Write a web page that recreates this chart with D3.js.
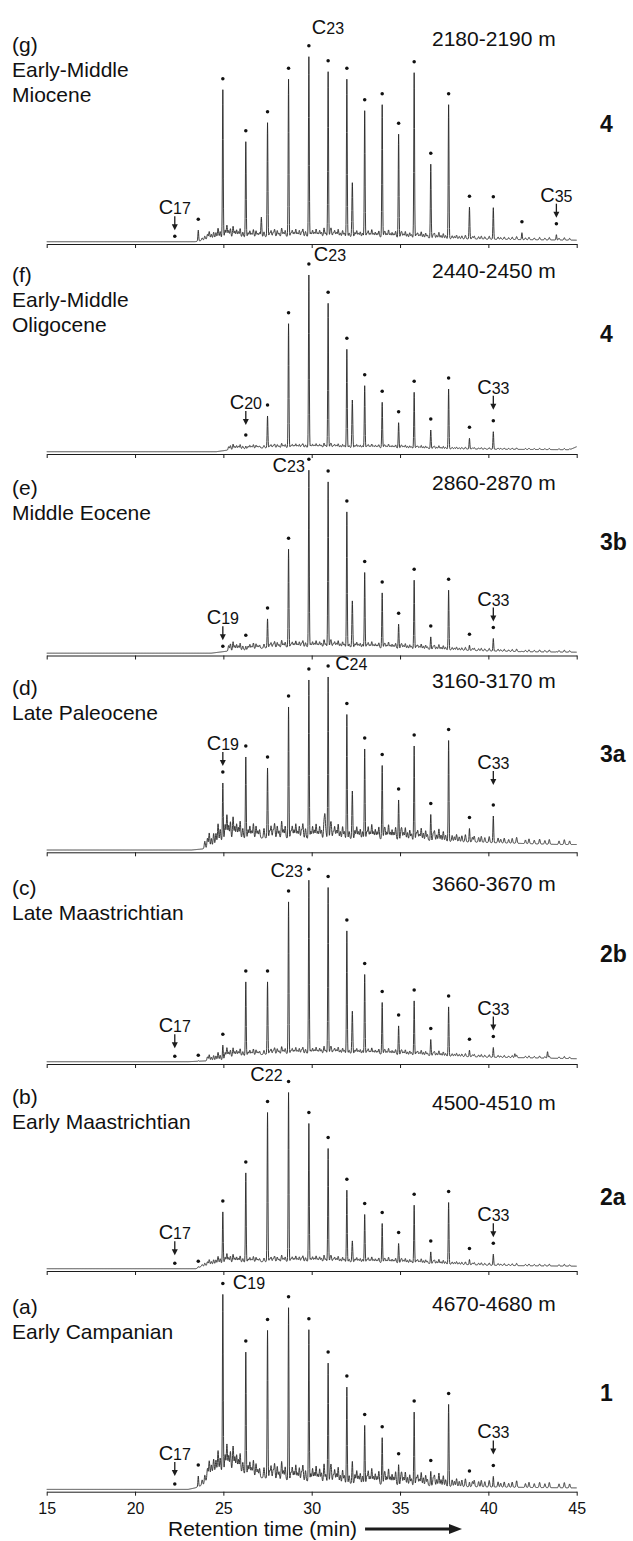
<!DOCTYPE html>
<html><head><meta charset="utf-8">
<script src="https://cdn.jsdelivr.net/npm/d3@7"></script>
<style>
body{margin:0;background:#fff}
text{font-family:"Liberation Sans",Arial,Helvetica,sans-serif;fill:#111}
</style>
</head><body>
<svg id="chart" width="633" height="1541"></svg>
<script>
// ---------------- DATA ----------------
const xTicks = [15, 20, 25, 30, 35, 40, 45];
const panelKeys = ["g", "f", "e", "d", "c", "b", "a"];
const panelAges = [["Early-Middle", "Miocene"], ["Early-Middle", "Oligocene"], ["Middle Eocene"], ["Late Paleocene"], ["Late Maastrichtian"], ["Early Maastrichtian"], ["Early Campanian"]];
const panelDepths = ["2180-2190 m", "2440-2450 m", "2860-2870 m", "3160-3170 m", "3660-3670 m", "4500-4510 m", "4670-4680 m"];
const panelGroups = ["4", "4", "3b", "3a", "2b", "2a", "1"];

// n-alkanes C17..C35 and retention times (min)
const alkaneCarbons = [17, 18, 19, 20, 21, 22, 23, 24, 25, 26, 27, 28, 29, 30, 31, 32, 33, 34, 35];
const alkaneTimes = [22.25, 23.58, 24.97, 26.27, 27.5, 28.69, 29.84, 30.93, 31.99, 33.0, 33.99, 34.92, 35.8, 36.74, 37.75, 38.93, 40.28, 41.9, 43.85];

// peak abundance (arbitrary units) C17..C35 per sample
const heightsG = [0, 11.5, 152, 100, 119, 162.5, 185, 170, 162.5, 131, 137, 107.5, 169, 77.5, 137, 34.5, 34, 9, 7];
const heightsF = [0, 0, 0.5, 5.7, 35.7, 128, 176.7, 148.4, 102.4, 66, 49.4, 29, 59.4, 21.7, 62.7, 13.4, 20, 2, 2];
const heightsE = [0, 0, 0.5, 7, 34.3, 104, 183, 171.3, 141.3, 80.7, 60.3, 29, 73, 16.3, 63, 8, 14.7, 2, 1.5];
const heightsD = [0, 0, 67, 93, 82, 143, 170, 173, 135.5, 101, 84.5, 50, 104, 35.5, 109.5, 21.5, 34, 3, 2];
const heightsC = [0, 1, 16.5, 79.8, 79.8, 159.8, 181.5, 174.2, 130.8, 87.2, 59.2, 35.8, 60.8, 22.2, 54.8, 11.5, 14.2, 3, 2];
const heightsB = [0, 2, 56.8, 95.8, 156.2, 176.2, 145.2, 120.2, 78.5, 54.2, 45.2, 25.2, 63.5, 16.8, 66.2, 9.2, 14.5, 2, 2];
const heightsA = [0, 13.3, 195, 137.3, 159, 181.7, 159.7, 126.3, 102.3, 64, 51.7, 24.7, 77.3, 18, 85, 7.3, 13, 2, 1.5];

// carbons marked with a dot (first, last)
const dottedG = [17, 35], dottedF = [20, 33], dottedE = [19, 33], dottedD = [19, 33], dottedC = [17, 33], dottedB = [17, 33], dottedA = [17, 33];

// other resolved peaks [time, abundance]
const extraG = [[27.15, 24.5], [32.3, 59]];
const extraF = [[32.3, 51.7]];
const extraE = [[32.3, 52.3]];
const extraD = [[32.3, 59], [30.75, 30]];
const extraC = [[32.3, 50.5], [41.5, 8], [43.35, 10]];
const extraB = [[32.3, 27.8]];
const extraA = [[32.3, 28]];

// unresolved hump (baseline) [time, abundance]
const humpG = [[15, 0], [23.4, 0], [23.7, 1], [24.2, 3], [25, 4.5], [27, 5], [30, 5.5], [33, 5], [36, 4], [38, 3], [40, 2.5], [45, 1.5]];
const humpF = [[15, 0], [24.6, 0], [25.2, 1.5], [26, 3], [27.5, 4], [30, 4.5], [34, 4], [37, 3], [40, 2.5], [44.6, 2], [45, 5]];
const humpE = [[15, 0], [24.3, 0], [25.2, 2], [26.3, 3.5], [27.5, 5.5], [29.5, 6.5], [31.5, 6.5], [33.5, 5.5], [35.5, 4.5], [37.5, 3.5], [39.5, 2.5], [42, 1.5], [45, 1]];
const humpD = [[15, 0], [23.2, 0], [23.8, 1], [24.3, 3], [24.7, 7], [25.0, 11], [26, 12], [28, 12], [31, 11.5], [34, 11], [36, 10], [38, 8.5], [40, 7.5], [42, 6.5], [44, 5.5], [45, 5.5]];
const humpC = [[15, 0], [23.0, 0], [24.0, 0.8], [24.85, 1.5], [25.2, 4], [26, 6], [28, 8], [30, 8.5], [32, 8.5], [34, 7.5], [36, 6.5], [38, 5.5], [40, 4.5], [42, 4], [45, 3]];
const humpB = [[15, 0], [23.45, 0], [23.7, 2], [24.3, 4], [25, 6], [27, 7], [30, 7.5], [33, 6.5], [36, 5.5], [38, 4.5], [40, 3.5], [42, 3], [45, 2.5]];
const humpA = [[15, 0], [23.0, 0], [23.4, 1.5], [23.9, 5], [24.15, 12], [24.4, 17], [25, 19], [25.6, 20], [26.2, 16], [27, 12], [28, 10], [29, 9], [30, 8], [32, 6], [34, 5], [36, 4], [38, 3], [40, 2.5], [42, 2], [45, 1.5]];

// minor (unlabelled) components: retention time and relative intensity
const minorTimes = [23.8, 23.95, 24.1, 24.2, 24.32, 24.45, 24.58, 24.7, 24.82,
  25.1, 25.2, 25.3, 25.4, 25.55, 25.65, 25.75, 25.85, 25.95, 26.1,
  26.4, 26.5, 26.6, 26.7, 26.85, 26.95, 27.05, 27.3,
  27.62, 27.7, 27.82, 27.9, 28.05, 28.15, 28.3, 28.4, 28.5,
  28.82, 28.9, 29.0, 29.1, 29.2, 29.3, 29.42, 29.5, 29.65,
  29.95, 30.05, 30.15, 30.25, 30.35, 30.45, 30.55, 30.7, 30.8,
  31.05, 31.1, 31.22, 31.3, 31.4, 31.5, 31.62, 31.75, 31.85,
  32.12, 32.45, 32.55, 32.65, 32.75, 32.88,
  33.12, 33.2, 33.3, 33.4, 33.5, 33.6, 33.7, 33.8,
  34.1, 34.15, 34.25, 34.35, 34.45, 34.55, 34.65, 34.75,
  35.05, 35.1, 35.2, 35.3, 35.42, 35.55, 35.65,
  35.92, 36.0, 36.1, 36.2, 36.32, 36.45, 36.55,
  36.88, 36.95, 37.08, 37.2, 37.32, 37.45, 37.58,
  37.95, 38.08, 38.2, 38.35, 38.5, 38.7,
  39.1, 39.2, 39.45, 39.6, 39.8, 40.05,
  40.55, 40.7, 40.9, 41.15, 41.35, 41.6,
  42.1, 42.3, 42.6, 42.9, 43.2, 43.45,
  44.0, 44.3, 44.6];
const minorRel = [0.2, 0.3, 0.4, 0.6, 0.35, 0.5, 0.45, 0.8, 0.5,
  0.6, 1.0, 0.55, 0.7, 0.9, 0.5, 0.6, 0.45, 0.7, 0.4,
  0.35, 0.5, 0.3, 0.6, 0.5, 0.3, 0.35, 0.4,
  0.3, 0.5, 0.35, 0.6, 0.5, 0.3, 0.7, 0.35, 0.5,
  0.3, 0.5, 0.35, 0.6, 0.3, 0.5, 0.35, 0.6, 0.4,
  0.3, 0.5, 0.35, 0.6, 0.3, 0.5, 0.35, 0.7, 0.3,
  0.35, 0.6, 0.3, 0.5, 0.35, 0.6, 0.3, 0.5, 0.3,
  0.3, 0.35, 0.5, 0.3, 0.4, 0.3,
  0.3, 0.5, 0.3, 0.6, 0.3, 0.4, 0.3, 0.5,
  0.3, 0.4, 0.3, 0.6, 0.3, 0.4, 0.3, 0.5,
  0.3, 0.4, 0.3, 0.5, 0.3, 0.4, 0.25,
  0.3, 0.4, 0.25, 0.5, 0.3, 0.4, 0.25,
  0.3, 0.4, 0.25, 0.5, 0.25, 0.4, 0.25,
  0.25, 0.2, 0.3, 0.2, 0.25, 0.3,
  0.2, 0.25, 0.2, 0.25, 0.2, 0.25,
  0.2, 0.15, 0.2, 0.15, 0.2, 0.25,
  0.15, 0.2, 0.15, 0.2, 0.15, 0.2,
  0.15, 0.2, 0.15];
const minorLevel = [12, 6, 10, 24, 10, 9, 26];

const allHeights = [heightsG, heightsF, heightsE, heightsD, heightsC, heightsB, heightsA];
const allDotted = [dottedG, dottedF, dottedE, dottedD, dottedC, dottedB, dottedA];
const allExtra = [extraG, extraF, extraE, extraD, extraC, extraB, extraA];
const allHump = [humpG, humpF, humpE, humpD, humpC, humpB, humpA];

// ---------------- LAYOUT ----------------
const layout = [
  {axisY: 244,    textY: 52,   depthY: 46,   groupY: 131.7, labels: [{c: 17, type: "arrow"}, {c: 23, type: "side", anchor: "start", dx: 3, dy: -12}, {c: 35, type: "arrow"}]},
  {axisY: 454,    textY: 282,  depthY: 278,  groupY: 341.7, labels: [{c: 20, type: "arrow", lift: 4}, {c: 23, type: "side", anchor: "start", dx: 5, dy: -3}, {c: 33, type: "arrow", lift: 5}]},
  {axisY: 655.5,  textY: 495,  depthY: 490,  groupY: 550,   labels: [{c: 19, type: "arrow"}, {c: 23, type: "side", anchor: "end", dx: -4, dy: 13}, {c: 33, type: "arrow"}]},
  {axisY: 852.3,  textY: 695,  depthY: 688,  groupY: 762,   labels: [{c: 19, type: "arrow"}, {c: 24, type: "side", anchor: "start", dx: 7, dy: 4}, {c: 33, type: "arrow", lift: 14}]},
  {axisY: 1064,   textY: 895,  depthY: 891,  groupY: 962,   labels: [{c: 17, type: "arrow", lift: 2}, {c: 23, type: "side", anchor: "end", dx: -6, dy: 8}, {c: 33, type: "arrow"}]},
  {axisY: 1271,   textY: 1104, depthY: 1110, groupY: 1205,  labels: [{c: 17, type: "arrow", lift: 2}, {c: 22, type: "side", anchor: "end", dx: -6, dy: -1}, {c: 33, type: "arrow"}]},
  {axisY: 1491.7, textY: 1314, depthY: 1311, groupY: 1401,  labels: [{c: 17, type: "arrow", lift: 2}, {c: 19, type: "side", anchor: "start", dx: 10, dy: 6}, {c: 33, type: "arrow", lift: 5}]}
];

const svg = d3.select("#chart");
const x = d3.scaleLinear().domain([15, 45]).range([46.7, 576.7]);
const INK = "#1c1c1c";

function cLabel(sel, c, fx, fy, anchor) {
  const t = sel.append("text").attr("x", fx).attr("y", fy).attr("text-anchor", anchor);
  t.append("tspan").attr("font-size", 20).text("C");
  t.append("tspan").attr("font-size", 16).text(String(c));
  return t;
}

panelKeys.forEach((key, i) => {
  const L = layout[i];
  const zero = L.axisY - 2.3;
  const y = d3.scaleLinear().domain([0, 200]).range([zero, zero - 200]);
  const g = svg.append("g").attr("class", "panel-" + key);
  const H = allHeights[i];
  const humpPts = allHump[i];
  const hump = d3.scaleLinear().domain(humpPts.map(d => d[0])).range(humpPts.map(d => d[1])).clamp(true);
  const onset = humpPts.find(d => d[1] > 0)[0];

  // axis
  const axis = d3.axisBottom(x).tickValues(xTicks).tickSize(4).tickSizeOuter(0).tickPadding(7)
    .tickFormat(i === 6 ? d3.format("d") : () => "");
  const ax = g.append("g").attr("transform", `translate(0,${L.axisY})`).call(axis);
  ax.select(".domain").attr("stroke", INK).attr("stroke-width", 1);
  ax.selectAll(".tick line").attr("stroke", INK).attr("stroke-width", 1);
  ax.selectAll(".tick text").attr("font-size", 16).attr("fill", "#111")
    .attr("font-family", '"Liberation Sans",Arial,sans-serif');

  // peaks
  const peaks = [];
  alkaneTimes.forEach((t, k) => {
    const amp = Math.max(0, H[k] - hump(t));
    if (amp > 0) peaks.push({t: t, h: amp, s: 0.022});
  });
  allExtra[i].forEach(([t, h]) => peaks.push({t: t, h: Math.max(0, h - hump(t)), s: 0.025}));
  minorTimes.forEach((t, k) => { if (t > onset) peaks.push({t: t, h: minorRel[k] * minorLevel[i], s: 0.03}); });

  const ts = d3.range(15, 45.0001, 0.01).concat(peaks.map(p => p.t)).sort((a, b) => a - b);
  const signal = ts.map(t => {
    let v = hump(t);
    for (const p of peaks) {
      const z = (t - p.t) / p.s;
      if (z > -6 && z < 6) v += p.h * Math.exp(-0.5 * z * z);
    }
    return [t, v];
  });
  g.append("path").datum(signal)
    .attr("d", d3.line().x(d => x(d[0])).y(d => y(d[1])))
    .attr("fill", "none").attr("stroke", "#262626").attr("stroke-width", 0.9).attr("stroke-linejoin", "round");

  // dots
  const dotY = {};
  const [c0, c1] = allDotted[i];
  alkaneCarbons.forEach((c, k) => {
    const t = alkaneTimes[k];
    const base = hump(t);
    const apex = Math.max(H[k], base);
    dotY[c] = y(apex) - (apex - base < 2 ? 5.5 : 11);
  });
  const dotted = alkaneCarbons.map((c, k) => ({c: c, t: alkaneTimes[k]})).filter(d => d.c >= c0 && d.c <= c1);
  g.selectAll("circle.dot").data(dotted).enter().append("circle")
    .attr("cx", d => x(d.t)).attr("cy", d => dotY[d.c]).attr("r", 1.75).attr("fill", "#111");

  // carbon-number labels
  L.labels.forEach(lb => {
    const k = alkaneCarbons.indexOf(lb.c);
    const px = x(alkaneTimes[k]);
    const dy0 = dotY[lb.c];
    if (lb.type === "arrow") {
      const bottom = dy0 - 6 - (lb.lift || 0);
      const top = bottom - 14;
      g.append("line").attr("x1", px).attr("x2", px).attr("y1", top).attr("y2", bottom - 4)
        .attr("stroke", INK).attr("stroke-width", 1.3);
      g.append("path").attr("d", `M${px - 3},${bottom - 6}L${px + 3},${bottom - 6}L${px},${bottom}Z`).attr("fill", INK);
      cLabel(g, lb.c, px, top - 2, "middle");
    } else {
      cLabel(g, lb.c, px + lb.dx, dy0 + lb.dy, lb.anchor);
    }
  });

  // texts
  const lines = ["(" + key + ")"].concat(panelAges[i]);
  lines.forEach((s, j) => {
    g.append("text").attr("x", 12).attr("y", L.textY + j * 24.8).attr("font-size", 21).text(s);
  });
  g.append("text").attr("x", 432).attr("y", L.depthY).attr("font-size", 21).text(panelDepths[i]);
  g.append("text").attr("x", 600).attr("y", L.groupY).attr("font-size", 23).attr("font-weight", "bold").text(panelGroups[i]);
});

// axis title with arrow
const title = svg.append("text").attr("x", 168).attr("y", 1536).attr("font-size", 21).text("Retention time (min)");
const tEnd = 168 + title.node().getComputedTextLength();
const ay = 1529;
svg.append("line").attr("x1", tEnd + 8).attr("x2", 451).attr("y1", ay).attr("y2", ay).attr("stroke", INK).attr("stroke-width", 3);
svg.append("path").attr("d", `M449,${ay - 5}L462,${ay}L449,${ay + 5}Z`).attr("fill", INK);
</script>
</body></html>
